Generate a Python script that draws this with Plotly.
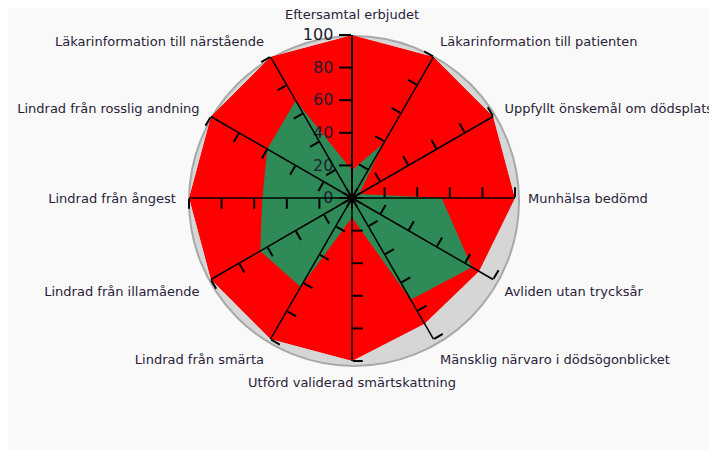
import plotly.graph_objects as go

categories = [
    "Eftersamtal erbjudet",
    "Läkarinformation till patienten",
    "Uppfyllt önskemål om dödsplats",
    "Munhälsa bedömd",
    "Avliden utan trycksår",
    "Mänsklig närvaro i dödsögonblicket",
    "Utförd validerad smärtskattning",
    "Lindrad från smärta",
    "Lindrad från illamående",
    "Lindrad från ångest",
    "Lindrad från rosslig andning",
    "Läkarinformation till närstående",
]
target_values = [100, 100, 100, 100, 90, 89, 100, 100, 100, 100, 100, 100]
unit_values = [17, 39, 5, 55, 85, 72, 12, 63, 65, 55, 60, 69]
radial_ticks = [0, 20, 40, 60, 80, 100]

# polar area placed so the centre lands at (352, 198) on screen
# (the page body adds an 8 px offset, so subtract it here)
W, H = 717, 450
cx, cy, R = 344, 190, 163
dom_x = [(cx - R) / W, (cx + R) / W]
dom_y = [(H - cy - R) / H, (H - cy + R) / H]

fig = go.Figure()

fig.add_trace(go.Scatterpolar(
    r=target_values, theta=categories, fill="toself",
    fillcolor="#ff0000", line=dict(color="#ff0000", width=0),
    mode="lines", showlegend=False, subplot="polar",
))
fig.add_trace(go.Scatterpolar(
    r=unit_values, theta=categories, fill="toself",
    fillcolor="#2e8b57", line=dict(color="#2e8b57", width=0),
    mode="lines", showlegend=False, subplot="polar",
))

# main polar: category labels and the labelled top axis
fig.update_layout(
    polar=dict(
        domain=dict(x=dom_x, y=dom_y),
        bgcolor="rgba(0,0,0,0)",
        gridshape="linear",
        angularaxis=dict(
            direction="clockwise", rotation=90,
            showgrid=False, showline=False,
            ticks="outside", ticklen=10, tickcolor="rgba(0,0,0,0)",
            tickfont=dict(family="DejaVu Sans", size=13, color="#2a2238"),
        ),
        radialaxis=dict(
            range=[0, 100], tickvals=radial_ticks, angle=90,
            side="counterclockwise", ticks="outside", ticklen=12,
            tickwidth=2, tickcolor="black", tickangle=90,
            showline=True, linecolor="black", linewidth=2,
            showgrid=False,
            tickfont=dict(family="DejaVu Sans", size=16, color="#1e1e2e"),
        ),
    )
)

# one extra overlaid polar per remaining spoke, each drawing a ticked radial axis
for k in range(1, len(categories)):
    name = f"polar{k + 1}"
    fig.add_trace(go.Scatterpolar(r=[0], theta=[categories[0]], mode="markers",
                                  marker=dict(opacity=0), showlegend=False,
                                  hoverinfo="skip", subplot=name))
    fig.update_layout({name: dict(
        domain=dict(x=dom_x, y=dom_y),
        bgcolor="rgba(0,0,0,0)",
        angularaxis=dict(visible=False, direction="clockwise", rotation=90),
        radialaxis=dict(
            range=[0, 100], tickvals=radial_ticks, angle=90 - 30 * k,
            side="counterclockwise", ticks="outside", ticklen=10,
            tickwidth=1.5, tickcolor="black",
            showline=True, linecolor="black", linewidth=1.5,
            showgrid=False, showticklabels=False,
        ),
    )})

# grey shadow disc behind the chart
fig.add_shape(
    type="circle", xref="paper", yref="paper", layer="below",
    x0=(cx + 2 - R - 2) / W, x1=(cx + 2 + R + 2) / W,
    y0=(H - cy - 3 - R - 2) / H, y1=(H - cy - 3 + R + 2) / H,
    fillcolor="#d6d6d6", line=dict(color="#a8a8a8", width=2),
)

fig.update_layout(
    width=W, height=H,
    margin=dict(l=0, r=0, t=0, b=0),
    paper_bgcolor="#f9f9f9",
    plot_bgcolor="#f9f9f9",
    showlegend=False,
)

fig.write_html("out.html")
